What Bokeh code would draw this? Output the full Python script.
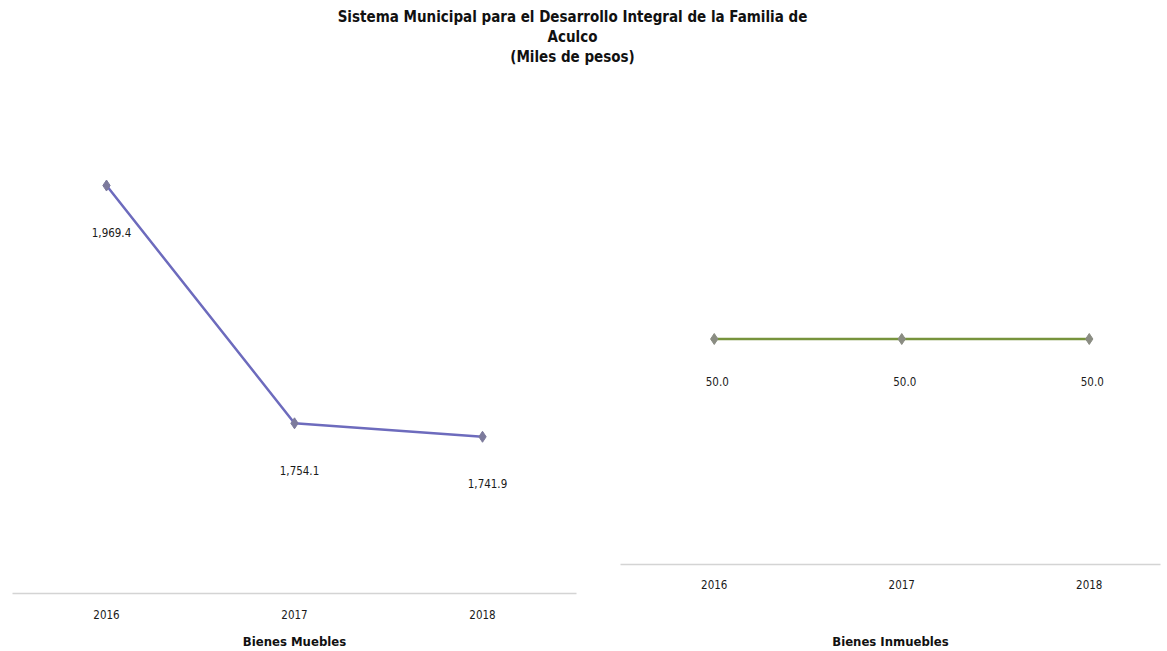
from bokeh.plotting import figure
from bokeh.layouts import column, row
from bokeh.models import Range1d, FixedTicker, LinearAxis, ColumnDataSource, Title
from bokeh.core.properties import value
from bokeh.embed import file_html
from bokeh.resources import INLINE

# ---- data ----
years = ["2016", "2017", "2018"]
muebles = [1969.4, 1754.1, 1741.9]
inmuebles = [50.0, 50.0, 50.0]
title_lines = [
    "Sistema Municipal para el Desarrollo Integral de la Familia de",
    "Aculco",
    "(Miles de pesos)",
]
left_name = "Bienes Muebles"
right_name = "Bienes Inmuebles"

FONT = "DejaVu Sans Condensed"


def make_chart(vals, name, width, height, xr, yr, line_color, marker_color,
               borders, tick_standoff, label_standoff, x_off, y_off):
    idx = list(range(len(years)))
    src = ColumnDataSource(dict(x=idx, y=vals, lab=[f"{v:,.1f}" for v in vals]))
    p = figure(width=width, height=height, output_backend="svg", toolbar_location=None,
               x_range=xr, y_range=yr, x_axis_location=None, y_axis_location=None,
               outline_line_color=None, background_fill_color="white",
               border_fill_color="white", title=None, frame_align=False)
    p.min_border_left, p.min_border_right, p.min_border_top, p.min_border_bottom = borders
    p.grid.visible = False
    ax = LinearAxis(ticker=FixedTicker(ticks=idx),
                    major_label_overrides={i: y for i, y in zip(idx, years)})
    ax.axis_line_color = "#d4d4d4"
    ax.axis_line_width = 1.5
    ax.major_tick_line_color = None
    ax.minor_tick_line_color = None
    ax.major_label_text_font = FONT
    ax.major_label_text_font_size = "11.5px"
    ax.major_label_text_color = "#1a1a1a"
    ax.major_label_standoff = tick_standoff
    ax.axis_label = name
    ax.axis_label_text_font = FONT
    ax.axis_label_text_font_size = "13px"
    ax.axis_label_text_font_style = "bold"
    ax.axis_label_text_color = "#111111"
    ax.axis_label_standoff = label_standoff
    p.add_layout(ax, "below")
    p.line("x", "y", source=src, line_color=line_color, line_width=2.5)
    p.scatter("x", "y", source=src, marker="diamond", size=11,
              fill_color=marker_color, line_color=marker_color)
    p.text("x", "y", text="lab", source=src, x_offset=x_off, y_offset=y_off,
           text_font=value(FONT), text_font_size="11.5px", text_color="#1a1a1a",
           text_align="center", text_baseline="middle")
    return p


# title figure
tf = figure(width=1167, height=80, output_backend="svg", toolbar_location=None,
            x_range=Range1d(0, 1), y_range=Range1d(0, 1),
            x_axis_location=None, y_axis_location=None, title=None,
            outline_line_color=None, min_border=0, min_border_right=23,
            min_border_top=65, frame_align=False,
            background_fill_color="white", border_fill_color="white")
tf.grid.visible = False
for line in reversed(title_lines):
    tf.add_layout(Title(text=line, align="center", text_font=FONT,
                        text_font_size="15px", text_font_style="bold",
                        text_color="#111111", standoff=0), "above")

left = make_chart(muebles, left_name, 597, 571, Range1d(-0.5, 2.5), Range1d(1600, 2050),
                  "#6d6bbd", "#7c7a9c", (12, 21, 16, 57), 10, 12, 5, 47)
right = make_chart(inmuebles, right_name, 570, 571, Range1d(-0.5, 2.38), Range1d(0, 100),
                   "#77933c", "#8a8c82", (23, 7, 33, 86), 9, 42, 3, 42)

layout = column(tf, row(left, right))
open("out.html", "w").write(file_html(layout, INLINE))
